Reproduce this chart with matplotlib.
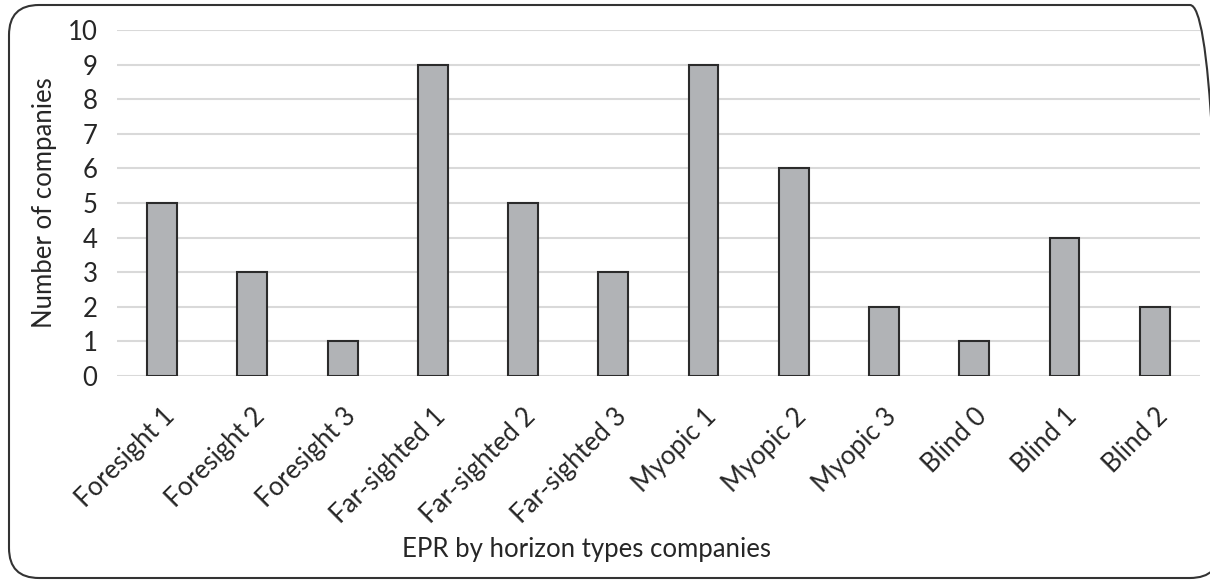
import matplotlib.pyplot as plt
from matplotlib.patches import FancyBboxPatch
from matplotlib.ticker import MultipleLocator

plt.rcParams['font.family'] = ['Lato', 'DejaVu Sans']

categories = ['Foresight 1', 'Foresight 2', 'Foresight 3', 'Far-sighted 1', 'Far-sighted 2',
              'Far-sighted 3', 'Myopic 1', 'Myopic 2', 'Myopic 3', 'Blind 0', 'Blind 1', 'Blind 2']
companies = [5, 3, 1, 9, 5, 3, 9, 6, 2, 1, 4, 2]

fig = plt.figure(figsize=(12.1, 5.8), dpi=100)
ax = fig.add_axes([0.0967, 0.3517, 0.895, 0.5966])

x = range(len(categories))
ax.bar(x, companies, width=0.33, color='#b1b3b6', edgecolor='#2b2b2b', linewidth=1.5, zorder=3)

ax.set_xlim(-0.5, len(categories) - 0.5)
ax.set_ylim(0, 10)
ax.yaxis.set_major_locator(MultipleLocator(1))
ax.grid(axis='y', color='#d9d9d9', linewidth=1.5, zorder=0)
ax.set_axisbelow(True)
for s in ax.spines.values():
    s.set_visible(False)
ax.tick_params(length=0, labelsize=18.5, labelcolor='#262626')
ax.tick_params(axis='y', pad=14)
ax.tick_params(axis='x', pad=20)
ax.set_xticks(list(x))
ax.set_xticklabels(categories, rotation=45, ha='right', rotation_mode='anchor')

ax.set_ylabel('Number of companies', fontsize=18.5, color='#262626', labelpad=8)
fig.text(0.485, 0.053, 'EPR by horizon types companies', fontsize=18.5, color='#262626',
         ha='center', va='center')

# rounded frame around the whole figure, in pixel coordinates (right edge runs off the canvas)
frame = FancyBboxPatch((9, 2), 1211, 573, boxstyle='round,pad=0,rounding_size=30',
                       transform=None, fill=False, edgecolor='#333333', linewidth=1.5)
fig.patches.append(frame)

fig.savefig('out.png', dpi=100)
